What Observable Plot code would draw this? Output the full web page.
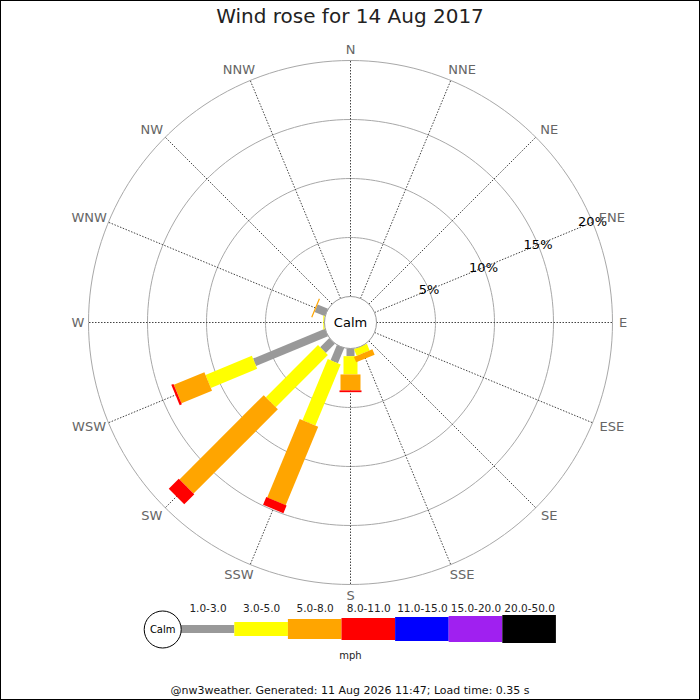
<!DOCTYPE html>
<html><head><meta charset="utf-8">
<script src="https://cdn.jsdelivr.net/npm/d3@7"></script>
<script src="https://cdn.jsdelivr.net/npm/@observablehq/plot@0.6"></script>
<style>
html,body{margin:0;padding:0;background:#fff;}
#wrap{position:relative;width:700px;height:700px;background:#fff;font-family:"DejaVu Sans",sans-serif;overflow:hidden;}
#frame{position:absolute;left:0;top:0;width:700px;height:700px;box-sizing:border-box;border:1px solid #000;pointer-events:none;}
#title{position:absolute;top:4px;left:0;width:700px;text-align:center;font-size:20px;line-height:24px;color:#222;}
#rose{position:absolute;top:36px;left:0;}
#legend{position:absolute;top:600px;left:0;}
#footer{position:absolute;top:684px;left:0;width:700px;text-align:center;font-size:11px;line-height:14px;color:#111;}
svg{overflow:visible;}
</style></head><body>
<div id="wrap">
  <div id="title">Wind rose for 14 Aug 2017</div>
  <div id="rose"></div>
  <div id="legend"></div>
  <div id="footer">@nw3weather. Generated: 11 Aug 2026 11:47; Load time: 0.35 s</div>
  <div id="frame"></div>
</div>
<script>
// ---------- data ----------
const directions = ["N","NNE","NE","ENE","E","ESE","SE","SSE","S","SSW","SW","WSW","W","WNW","NW","NNW"];
const speedClasses = ["1.0-3.0","3.0-5.0","5.0-8.0","8.0-11.0","11.0-15.0","15.0-20.0","20.0-50.0"];
// percentage of time, per direction (N ... NNW), per speed class (mph)
const pct_1_3   = [0,0,0,0,0,0,0,0,   0.65,1.4,1.1,6.6, 0,   0.95,0,0];
const pct_3_5   = [0,0,0,0,0,0,0,0.6, 1.55,5.6,6.25,4.25,0.1,0,   0,0];
const pct_5_8   = [0,0,0,0,0,0,0,0.5, 1.35,7.2,10.1,2.8, 0,   0.1, 0,0];
const pct_8_11  = [0,0,0,0,0,0,0,0,   0.15,0.7,1.2,0.2,  0,   0,   0,0];
const pct_11_15 = [0,0,0,0,0,0,0,0,0,0,0,0,0,0,0,0];
const pct_15_20 = [0,0,0,0,0,0,0,0,0,0,0,0,0,0,0,0];
const pct_20_50 = [0,0,0,0,0,0,0,0,0,0,0,0,0,0,0,0];
const ringTicks = [5,10,15,20];
const ringLabels = ["5%","10%","15%","20%"];
const calmLabel = "Calm";
const unitLabel = "mph";

// ---------- styles ----------
const classColors = ["#999999","#ffff00","#ffa500","#ff0000","#0000ff","#a020f0","#000000"];
const classWidths = [8,14,20,22,24,26,28];

// ---------- geometry ----------
const K = 11.8;          // pixels per percent
const CALM = 26 / K;     // calm circle radius, in percent units
const W = 700, H = 564, CY = 286;
const series = [pct_1_3,pct_3_5,pct_5_8,pct_8_11,pct_11_15,pct_15_20,pct_20_50];
const ang = i => i * Math.PI / 8;
const px = (r, i) => r * Math.sin(ang(i));
const py = (r, i) => r * Math.cos(ang(i));

// stacked bar segments
const segs = [];
directions.forEach((dir, i) => {
  let acc = 0;
  series.forEach((s, c) => {
    const v = s[i];
    if (v > 0) segs.push({dir, i, c, p0: acc, p1: acc + v});
    acc += v;
  });
});

// ring outlines
const ringPts = [];
ringTicks.forEach(t => d3.range(0, 361, 2).forEach(a => ringPts.push({t, a: a * Math.PI / 180})));

// direction labels
const LR = 268 / K;
const dirLab = directions.map((d, i) => {
  const s = Math.sin(ang(i)), c = Math.cos(ang(i));
  const half = (d.length * 4.6) / K;
  const sg = Math.abs(s) < 1e-6 ? 0 : Math.sign(s);
  return {d, x: LR * s + sg * Math.min(1, 1.7 * Math.abs(s)) * half, y: LR * c + 5 * c / K};
});

const marks = [
  Plot.line(ringPts, {x: d => (CALM + d.t) * Math.sin(d.a), y: d => (CALM + d.t) * Math.cos(d.a), z: "t", stroke: "#a8a8a8", strokeWidth: 1}),
  Plot.link(directions, {x1: (d, i) => px(CALM, i), y1: (d, i) => py(CALM, i), x2: (d, i) => px(CALM + 20, i), y2: (d, i) => py(CALM + 20, i), stroke: "#444", strokeWidth: 1, strokeDasharray: "1.5,1.5"}),
  Plot.text(ringTicks, {x: d => (CALM + d) * Math.sin(ang(3)), y: d => (CALM + d) * Math.cos(ang(3)), text: (d, i) => ringLabels[i], fill: "#000", fontSize: 13}),
  Plot.text(dirLab, {x: "x", y: "y", text: "d", fill: "#666", fontSize: 13})
];
speedClasses.forEach((cls, c) => {
  marks.push(Plot.link(segs.filter(s => s.c === c), {
    x1: s => px(CALM + s.p0, s.i), y1: s => py(CALM + s.p0, s.i),
    x2: s => px(CALM + s.p1, s.i), y2: s => py(CALM + s.p1, s.i),
    stroke: classColors[c], strokeWidth: classWidths[c], strokeLinecap: "butt"
  }));
});
marks.push(Plot.dot([calmLabel], {x: () => 0, y: () => 0, r: CALM * K, fill: "#fff", stroke: "#999", strokeWidth: 1}));
marks.push(Plot.text([calmLabel], {x: () => 0, y: () => 0, text: d => d, fill: "#000", fontSize: 13}));

const rose = Plot.plot({
  width: W, height: H, margin: 0,
  style: {fontFamily: "DejaVu Sans", background: "transparent"},
  x: {domain: [-350 / K, 350 / K], range: [0, W], axis: null},
  y: {domain: [-(H - CY) / K, CY / K], range: [H, 0], axis: null},
  marks
});
document.getElementById("rose").append(rose);

// ---------- legend ----------
const SEGW = 53.6, X0 = 180.7, LH = 64, LY = 29;
const legend = Plot.plot({
  width: W, height: LH, margin: 0,
  style: {fontFamily: "DejaVu Sans", background: "transparent"},
  x: {domain: [-X0 / SEGW, (W - X0) / SEGW], range: [0, W], axis: null},
  y: {domain: [0, LH], range: [0, LH], axis: null},
  marks: [
    Plot.rect(speedClasses, {x1: (d, i) => i, x2: (d, i) => i + 1, y1: (d, i) => LY - classWidths[i] / 2, y2: (d, i) => LY + classWidths[i] / 2, fill: (d, i) => classColors[i]}),
    Plot.text(speedClasses, {x: (d, i) => i + 0.5, y: () => 8, text: d => d, fill: "#222", fontSize: 10.5}),
    Plot.dot([calmLabel], {x: () => -18.5 / SEGW, y: () => LY, r: 18.5, fill: "#fff", stroke: "#000", strokeWidth: 1}),
    Plot.text([calmLabel], {x: () => -18.5 / SEGW, y: () => LY, text: d => d, fill: "#000", fontSize: 10}),
    Plot.text([unitLabel], {x: () => (350 - X0) / SEGW, y: () => 55, text: d => d, fill: "#222", fontSize: 10})
  ]
});
document.getElementById("legend").append(legend);
</script>
</body></html>
